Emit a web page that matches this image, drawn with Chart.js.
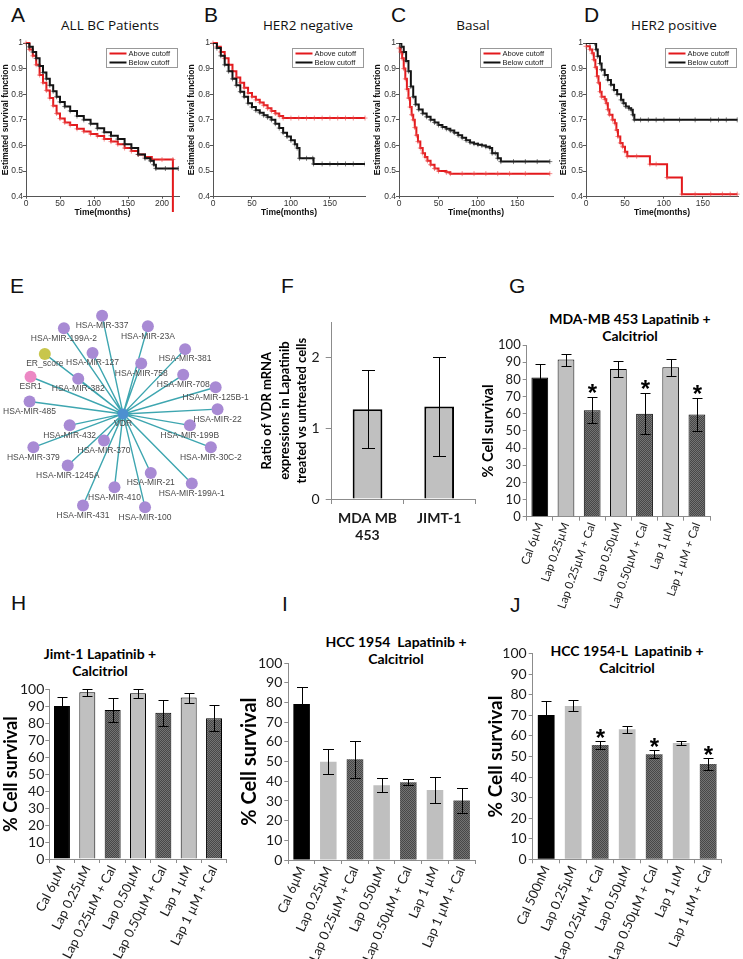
<!DOCTYPE html>
<html>
<head>
<meta charset="utf-8">
<script src="https://cdn.jsdelivr.net/npm/chart.js@4.4.0/dist/chart.umd.min.js"></script>
<style>
body { margin: 0; background: #fff; width: 743px; height: 959px; position: relative; overflow: hidden; }
canvas { position: absolute; }
.lab { position: absolute; font-family: "Liberation Sans", Arial, sans-serif; font-size: 21px; line-height: 1; color: #111; }
.ttl { position: absolute; font-family: "Open Sans", sans-serif; font-size: 13.5px; line-height: 18px; color: #111; transform: translateX(-50%); white-space: nowrap; }
.btl { position: absolute; font-family: Lato, sans-serif; font-weight: bold; font-size: 14px; line-height: 16.7px; color: #000; text-align: center; transform: translateX(-50%); white-space: pre; }
</style>
</head>
<body>
<div class="lab" style="left:11px;top:4px">A</div>
<div class="lab" style="left:204px;top:4px">B</div>
<div class="lab" style="left:391px;top:4px">C</div>
<div class="lab" style="left:584px;top:4px">D</div>
<div class="lab" style="left:10px;top:275px">E</div>
<div class="lab" style="left:281px;top:275px">F</div>
<div class="lab" style="left:509px;top:275px">G</div>
<div class="lab" style="left:11px;top:592px">H</div>
<div class="lab" style="left:282px;top:593px">I</div>
<div class="lab" style="left:510px;top:594px">J</div>

<div class="ttl" style="left:110px;top:16px">ALL BC Patients</div>
<div class="ttl" style="left:308px;top:16px">HER2 negative</div>
<div class="ttl" style="left:473px;top:16px">Basal</div>
<div class="ttl" style="left:674px;top:16px">HER2 positive</div>

<div class="btl" style="left:630px;top:311px">MDA-MB 453 Lapatinib +
Calcitriol</div>
<div class="btl" style="left:100px;top:646px">Jimt-1 Lapatinib +
Calcitriol</div>
<div class="btl" style="left:396px;top:634px">HCC 1954  Lapatinib +
Calcitriol</div>
<div class="btl" style="left:627px;top:643px">HCC 1954-L  Lapatinib +
Calcitriol</div>

<canvas id="cA"></canvas>
<canvas id="cB"></canvas>
<canvas id="cC"></canvas>
<canvas id="cD"></canvas>
<canvas id="cE"></canvas>
<canvas id="cF"></canvas>
<canvas id="cG"></canvas>
<canvas id="cH"></canvas>
<canvas id="cI"></canvas>
<canvas id="cJ"></canvas>

<script>
// ---- survival curves (time in months, survival fraction) ----
const survTicks = [0.4, 0.5, 0.6, 0.7, 0.8, 0.9, 1];
const timeTicksA = [0, 50, 100, 150, 200];
const timeTicks = [0, 50, 100, 150];

const aAboveT = [0,5,10,15,20,25,30,35,40,45,50,57,65,75,85,95,105,115,125,135,145,155,165,175,185,200,216,216];
const aAboveS = [1,0.975,0.95,0.915,0.875,0.845,0.815,0.785,0.755,0.725,0.705,0.69,0.68,0.665,0.655,0.645,0.637,0.625,0.615,0.605,0.59,0.578,0.565,0.555,0.545,0.545,0.545,0.34];
const aBelowT = [0,5,10,15,20,25,30,35,40,45,50,57,65,75,85,95,105,115,125,135,145,155,165,175,183,188,191,205,224];
const aBelowS = [1,0.985,0.965,0.94,0.91,0.885,0.86,0.835,0.812,0.79,0.77,0.752,0.735,0.715,0.70,0.685,0.667,0.652,0.638,0.625,0.605,0.59,0.565,0.55,0.54,0.525,0.51,0.51,0.51];

const bAboveT = [0,5,10,15,20,25,30,35,40,45,50,55,60,65,70,75,80,85,90,100,110,120,130,140,150,160,170,180,195];
const bAboveS = [1,0.985,0.965,0.94,0.915,0.89,0.865,0.845,0.825,0.805,0.79,0.778,0.768,0.757,0.745,0.735,0.725,0.715,0.707,0.707,0.707,0.707,0.707,0.707,0.707,0.707,0.707,0.707,0.707];
const bBelowT = [0,5,10,15,20,25,30,35,40,45,50,55,60,65,70,75,80,85,90,95,100,105,108,111,120,128,129,140,150,160,170,180,195];
const bBelowS = [1,0.98,0.95,0.915,0.89,0.86,0.835,0.81,0.79,0.765,0.75,0.737,0.728,0.718,0.71,0.70,0.685,0.668,0.65,0.635,0.62,0.605,0.59,0.55,0.55,0.55,0.528,0.528,0.528,0.528,0.528,0.528,0.528];

const cAboveT = [0,2,4,6,8,10,12,14,16,18,20,22,24,27,30,33,36,40,45,50,60,65,80,95,110,125,140,160,191];
const cAboveS = [0.98,0.965,0.94,0.9,0.86,0.82,0.785,0.75,0.72,0.70,0.67,0.64,0.615,0.59,0.57,0.555,0.54,0.525,0.51,0.50,0.495,0.49,0.49,0.49,0.49,0.49,0.49,0.49,0.49];
const cBelowT = [0,3,6,9,12,15,18,21,25,30,35,40,45,50,55,60,65,70,75,80,85,90,95,100,105,110,115,118,122,125,129,145,160,175,191];
const cBelowS = [1,0.985,0.965,0.93,0.89,0.83,0.79,0.76,0.74,0.725,0.712,0.70,0.69,0.68,0.672,0.665,0.658,0.65,0.64,0.63,0.62,0.612,0.607,0.603,0.60,0.595,0.59,0.57,0.57,0.55,0.537,0.537,0.537,0.537,0.537];

const dAboveT = [0,5,8,10,12,14,16,18,20,24,26,28,30,34,37,39,41,44,47,50,53,65,82,90,104,123,140,160,175,185,194];
const dAboveS = [0.987,0.975,0.96,0.935,0.905,0.87,0.845,0.81,0.79,0.78,0.765,0.74,0.72,0.70,0.687,0.66,0.635,0.61,0.595,0.575,0.558,0.558,0.527,0.527,0.475,0.41,0.41,0.41,0.41,0.41,0.41];
const dBelowT = [0,5,11,13,15,18,20,24,28,32,36,40,45,48,51,55,58,60,62,70,80,90,100,120,140,160,170,180,194];
const dBelowS = [1,1,1,0.975,0.948,0.92,0.896,0.875,0.856,0.837,0.817,0.80,0.778,0.765,0.752,0.745,0.739,0.72,0.70,0.70,0.70,0.70,0.70,0.70,0.70,0.70,0.70,0.70,0.70];

// ---- network (VDR hub, relative layout units) ----
const netNames = ['HSA-MIR-337','HSA-MIR-199A-2','HSA-MIR-23A','ER_score','HSA-MIR-127','HSA-MIR-758','HSA-MIR-381','ESR1','HSA-MIR-382','HSA-MIR-708','HSA-MIR-125B-1','HSA-MIR-485','HSA-MIR-22','HSA-MIR-432','HSA-MIR-199B','HSA-MIR-370','HSA-MIR-30C-2','HSA-MIR-379','HSA-MIR-1245A','HSA-MIR-21','HSA-MIR-199A-1','HSA-MIR-410','HSA-MIR-431','HSA-MIR-100'];
const netX = [-22,-62,26,-82,-32,19,65,-97,-47,63,97,-98,99,-56,70,-20,92,-94,-58,29,72,-9,-42,23];
const netY = [103,90,92,63,64,53,68,39,37,41,28,13,5,-12,-12,-28,-35,-35,-54,-62,-73,-77,-96,-98];

// ---- F ----
const fLabels = [['MDA MB', '453'], 'JIMT-1'];
const fValues = [1.27, 1.31];
const fErr = [0.55, 0.70];
const fTicks = [0, 1, 2];

// ---- G-J ----
const pctTicks = [0, 10, 20, 30, 40, 50, 60, 70, 80, 90, 100];
const treatLabels = ['Cal 6µM', 'Lap 0.25µM', 'Lap 0.25µM + Cal', 'Lap 0.50µM', 'Lap 0.50µM + Cal', 'Lap 1 µM', 'Lap 1 µM + Cal'];
const treatLabelsJ = ['Cal 500nM', 'Lap 0.25µM', 'Lap 0.25µM + Cal', 'Lap 0.50µM', 'Lap 0.50µM + Cal', 'Lap 1 µM', 'Lap 1 µM + Cal'];
const treatKind = ['cal', 'lap', 'combo', 'lap', 'combo', 'lap', 'combo'];

const gValues = [81, 91.5, 62, 86, 60, 87, 59.5];
const gErr = [8, 3.5, 7.5, 4.7, 11.8, 5, 9.5];
const gStars = [false, false, true, false, true, false, true];

const hValues = [90.2, 98.2, 87.8, 97.6, 86.2, 95.1, 82.9];
const hErr = [5, 2, 7.2, 2.7, 7.6, 3, 7.6];

const iValues = [79.3, 50, 51.2, 38, 39.5, 35.6, 30.2];
const iErr = [8.5, 6.3, 9.3, 3.5, 1.5, 6.8, 6.2];

const jValues = [70.2, 74.6, 55.6, 63.2, 51.1, 56.6, 46.4];
const jErr = [6.7, 2.7, 1.8, 1.8, 1.9, 0.9, 3.1];
const jStars = [false, false, true, false, true, false, true];

// ---------------------------------------------------------------
const axisGrey = '#8c8c8c';

function setup(id, box) {
    const c = document.getElementById(id);
    c.width = box.w;
    c.height = box.h;
    c.style.left = box.left + 'px';
    c.style.top = box.top + 'px';
    return c;
}

function fixSize(s) {
    return function (scale) {
        if (scale.isHorizontal()) scale.height = s; else scale.width = s;
        scale.paddingLeft = scale.paddingRight = scale.paddingTop = scale.paddingBottom = 0;
    };
}

function keepTicks(vals) {
    return function (scale) {
        scale.ticks = vals.map(v => ({ value: v }));
    };
}

function pts(t, s) {
    return t.map((x, i) => ({ x: x, y: s[i] }));
}

function hatch() {
    const c = document.createElement('canvas');
    c.width = c.height = 2;
    const g = c.getContext('2d');
    g.fillStyle = '#474747';
    g.fillRect(0, 0, 2, 2);
    g.fillStyle = '#737373';
    g.fillRect(0, 0, 1, 1);
    g.fillRect(1, 1, 1, 1);
    return g.createPattern(c, 'repeat');
}
const comboFill = hatch();

// error bars + asterisks
Chart.register({
    id: 'errorBars',
    afterDatasetsDraw(chart, args, opts) {
        if (!opts.errs) return;
        const ctx = chart.ctx;
        const y = chart.scales.y;
        const vals = chart.data.datasets[0].data;
        ctx.save();
        ctx.strokeStyle = opts.color || '#000';
        ctx.lineWidth = 1;
        chart.getDatasetMeta(0).data.forEach((bar, i) => {
            const e = opts.errs[i];
            const x = Math.round(bar.x) + 0.5;
            const top = Math.round(y.getPixelForValue(vals[i] + e)) + 0.5;
            const bot = Math.round(y.getPixelForValue(vals[i] - e)) + 0.5;
            ctx.beginPath();
            ctx.moveTo(x, top); ctx.lineTo(x, bot);
            ctx.moveTo(x - opts.cap, top); ctx.lineTo(x + opts.cap, top);
            ctx.moveTo(x - opts.cap, bot); ctx.lineTo(x + opts.cap, bot);
            ctx.stroke();
            if (opts.stars && opts.stars[i]) {
                ctx.fillStyle = '#000';
                ctx.font = 'bold ' + opts.starSize + 'px "Liberation Sans"';
                ctx.textAlign = 'center';
                ctx.textBaseline = 'alphabetic';
                ctx.fillText('*', x, top - opts.starGap + opts.starSize * 0.52);
            }
        });
        ctx.restore();
    }
});

// legend box inside survival plots
Chart.register({
    id: 'survLegend',
    afterDraw(chart, args, opts) {
        if (!opts.show) return;
        const ctx = chart.ctx, a = chart.chartArea;
        const w = 71, h = 19;
        const x = Math.round(a.right - 2 - w) + 0.5, y = Math.round(a.top + 5) + 0.5;
        ctx.save();
        ctx.fillStyle = '#fff';
        ctx.strokeStyle = '#999';
        ctx.lineWidth = 1;
        ctx.fillRect(x, y, w, h);
        ctx.strokeRect(x, y, w, h);
        chart.data.datasets.forEach((ds, i) => {
            const ly = y + 5 + i * 9;
            ctx.strokeStyle = ds.borderColor;
            ctx.lineWidth = 2;
            ctx.beginPath();
            ctx.moveTo(x + 3, ly); ctx.lineTo(x + 20, ly);
            ctx.stroke();
            ctx.fillStyle = '#222';
            ctx.font = '7.5px "Liberation Sans"';
            ctx.textBaseline = 'middle';
            ctx.fillText(ds.label, x + 22, ly);
        });
        ctx.restore();
    }
});

// node labels of the network
Chart.register({
    id: 'netLabels',
    afterDatasetsDraw(chart, args, opts) {
        if (!opts.names) return;
        const ctx = chart.ctx, sx = chart.scales.x, sy = chart.scales.y;
        ctx.save();
        ctx.fillStyle = '#4a4a4a';
        ctx.font = '8.5px "Liberation Sans"';
        ctx.textAlign = 'center';
        ctx.textBaseline = 'middle';
        opts.names.forEach((n, i) => {
            ctx.fillText(n, sx.getPixelForValue(opts.xs[i]), sy.getPixelForValue(opts.ys[i]) + 10);
        });
        ctx.restore();
    }
});

function survChart(id, box, area, xMax, xTicks, above, below) {
    const c = setup(id, box);
    const tickFont = { family: 'Liberation Sans', size: 8.5 };
    new Chart(c, {
        type: 'line',
        data: {
            datasets: [{
                label: 'Above cutoff',
                data: above,
                borderColor: '#e3191c',
                borderWidth: 2,
                stepped: true,
                pointStyle: 'cross',
                pointRadius: 2.5,
                pointBorderColor: 'rgba(235,70,70,0.6)',
                pointBorderWidth: 1,
                order: 1,
                clip: false
            }, {
                label: 'Below cutoff',
                data: below,
                borderColor: '#111',
                borderWidth: 2,
                stepped: true,
                pointStyle: 'cross',
                pointRadius: 2.5,
                pointBorderColor: 'rgba(40,40,40,0.6)',
                pointBorderWidth: 1,
                order: 0
            }]
        },
        options: {
            animation: false,
            responsive: false,
            events: [],
            layout: { padding: { left: 0, top: area.y0 - box.top, right: box.left + box.w - area.x1, bottom: 0 } },
            plugins: { legend: { display: false }, tooltip: { enabled: false }, survLegend: { show: true } },
            scales: {
                x: {
                    type: 'linear', min: 0, max: xMax,
                    afterBuildTicks: keepTicks(xTicks),
                    grid: { drawOnChartArea: false, tickLength: 2, color: '#555' },
                    border: { color: '#555' },
                    ticks: { font: tickFont, color: '#333', padding: 0, maxRotation: 0, autoSkip: false },
                    title: { display: true, text: 'Time(months)', color: '#111', font: { family: 'Liberation Sans', size: 8.5, weight: 'bold' }, padding: 0 },
                    afterFit: fixSize(box.top + box.h - area.y1)
                },
                y: {
                    min: 0.4, max: 1,
                    afterBuildTicks: keepTicks(survTicks),
                    grid: { drawOnChartArea: false, tickLength: 3, color: '#555' },
                    border: { color: '#555' },
                    ticks: { font: tickFont, color: '#333', padding: 0, autoSkip: false, callback: v => String(Math.round(v * 10) / 10) },
                    title: { display: true, text: 'Estimated survival function', color: '#111', font: { family: 'Liberation Sans', size: 8.5, weight: 'bold' }, padding: { top: 1, bottom: 0 } },
                    afterFit: fixSize(area.x0 - box.left)
                }
            }
        }
    });
}

survChart('cA', { left: 0, top: 0, w: 186, h: 218 }, { x0: 26, x1: 179, y0: 43, y1: 196.7 }, 225, timeTicksA, pts(aAboveT, aAboveS), pts(aBelowT, aBelowS));
survChart('cB', { left: 186, top: 0, w: 186, h: 218 }, { x0: 213, x1: 365, y0: 43, y1: 196.7 }, 195, timeTicks, pts(bAboveT, bAboveS), pts(bBelowT, bBelowS));
survChart('cC', { left: 372, top: 0, w: 186, h: 218 }, { x0: 399, x1: 553, y0: 43, y1: 196.7 }, 195, timeTicks, pts(cAboveT, cAboveS), pts(cBelowT, cBelowS));
survChart('cD', { left: 558, top: 0, w: 185, h: 218 }, { x0: 586, x1: 740, y0: 43, y1: 196.7 }, 195, timeTicks, pts(dAboveT, dAboveS), pts(dBelowT, dBelowS));

// network panel E
(function () {
    const box = { left: 0, top: 285, w: 262, h: 255 };
    const c = setup('cE', box);
    const hub = { x: 0, y: 0 };
    const nodes = netX.map((x, i) => ({ x: x, y: netY[i] }));
    const edges = nodes.flatMap(n => [hub, n]);
    const nodeColor = netNames.map(n => n === 'ER_score' ? '#c8c64c' : (n === 'ESR1' ? '#ec88c4' : '#a88ad4'));
    new Chart(c, {
        type: 'scatter',
        data: {
            datasets: [
                { data: edges, showLine: true, borderColor: '#3ea6b0', borderWidth: 1.4, pointRadius: 0, order: 2 },
                { data: nodes, pointRadius: 6, pointBackgroundColor: nodeColor, pointBorderWidth: 0, order: 1 },
                { data: [hub], pointRadius: 5.5, pointBackgroundColor: '#4d90d0', pointBorderWidth: 0, order: 0 }
            ]
        },
        options: {
            animation: false,
            responsive: false,
            events: [],
            layout: { padding: 0 },
            plugins: {
                legend: { display: false }, tooltip: { enabled: false },
                netLabels: { names: netNames.concat(['VDR']), xs: netX.concat([0]), ys: netY.concat([0]) }
            },
            scales: {
                x: { type: 'linear', display: false, min: -122.7, max: 139.3 },
                y: { type: 'linear', display: false, min: -126, max: 129 }
            }
        }
    });
})();

// bar charts
function barChart(id, box, area, cfg) {
    const c = setup(id, box);
    new Chart(c, {
        type: 'bar',
        data: {
            labels: cfg.labels,
            datasets: [{
                data: cfg.values,
                backgroundColor: cfg.colors,
                borderColor: cfg.borderWidth ? '#000' : 'rgba(0,0,0,0)',
                borderWidth: cfg.borderWidth,
                barPercentage: cfg.barPct,
                categoryPercentage: 1
            }]
        },
        options: {
            animation: false,
            responsive: false,
            events: [],
            layout: { padding: { left: 0, top: area.y0 - box.top, right: box.left + box.w - area.x1, bottom: 0 } },
            plugins: {
                legend: { display: false }, tooltip: { enabled: false },
                errorBars: { errs: cfg.errs, stars: cfg.stars, cap: cfg.cap, starGap: cfg.starGap || 8, starSize: cfg.starSize || 24 }
            },
            scales: {
                x: {
                    grid: { offset: true, drawOnChartArea: false, tickLength: cfg.xTick, color: axisGrey },
                    border: { color: axisGrey },
                    ticks: { font: cfg.xFont, color: '#1a1a1a', minRotation: cfg.rot, maxRotation: cfg.rot, autoSkip: false, padding: cfg.xPad },
                    afterFit: fixSize(box.top + box.h - area.y1)
                },
                y: {
                    min: 0, max: cfg.yMax,
                    afterBuildTicks: keepTicks(cfg.yTicks),
                    grid: { drawOnChartArea: false, tickLength: cfg.yTick, color: axisGrey },
                    border: { color: axisGrey },
                    ticks: { font: cfg.yFont, color: '#1a1a1a', padding: cfg.yPad, autoSkip: false },
                    title: { display: true, text: cfg.yTitle, color: '#000', font: cfg.titleFont, padding: { top: cfg.titlePad, bottom: 0 } },
                    afterFit: fixSize(area.x0 - box.left)
                }
            }
        }
    });
}

function kindColors(light) {
    return treatKind.map(k => k === 'cal' ? '#000' : (k === 'lap' ? light : comboFill));
}

barChart('cF', { left: 250, top: 300, w: 240, h: 250 }, { x0: 331.7, x1: 475, y0: 322.3, y1: 499 }, {
    labels: fLabels, values: fValues, errs: fErr, colors: '#c0c0c0', borderWidth: 2, barPct: 0.415,
    cap: 6.5, xTick: 5, xPad: 6, rot: 0, xFont: { family: 'Lato', size: 14, weight: 'bold', lineHeight: 1.2 },
    yMax: 2.5, yTicks: fTicks, yTick: 6, yPad: 6, yFont: { family: 'Lato', size: 14 },
    yTitle: ['Ratio of VDR mRNA', 'expressions in Lapatinib', 'treated vs untreated cells'],
    titleFont: { family: 'Lato', size: 13, weight: 'bold', lineHeight: 1.35 }, titlePad: 8
});

barChart('cG', { left: 480, top: 300, w: 263, h: 315 }, { x0: 526.7, x1: 710, y0: 345, y1: 516.7 }, {
    labels: treatLabels, values: gValues, errs: gErr, stars: gStars, starGap: 9, starSize: 24,
    colors: kindColors('#c0c0c0'), borderWidth: 1, barPct: 0.64,
    cap: 5, xTick: 4, xPad: 0, rot: 70, xFont: { family: 'Lato', size: 11.5 },
    yMax: 100, yTicks: pctTicks, yTick: 4, yPad: 2, yFont: { family: 'Lato', size: 13 },
    yTitle: '% Cell survival', titleFont: { family: 'Lato', size: 14.5, weight: 'bold' }, titlePad: 0
});

barChart('cH', { left: 0, top: 680, w: 240, h: 279 }, { x0: 49.3, x1: 226.7, y0: 689.3, y1: 859 }, {
    labels: treatLabels, values: hValues, errs: hErr,
    colors: kindColors('#c0c0c0'), borderWidth: 1, barPct: 0.63,
    cap: 5, xTick: 4, xPad: 0, rot: 63, xFont: { family: 'Lato', size: 13 },
    yMax: 100, yTicks: pctTicks, yTick: 4, yPad: 1, yFont: { family: 'Lato', size: 14 },
    yTitle: '% Cell survival', titleFont: { family: 'Lato', size: 18, weight: 'bold' }, titlePad: 0
});

barChart('cI', { left: 238, top: 655, w: 250, h: 304 }, { x0: 288.3, x1: 475, y0: 663.3, y1: 860 }, {
    labels: treatLabels, values: iValues, errs: iErr,
    colors: kindColors('#bfbfbf'), borderWidth: 0, barPct: 0.62,
    cap: 5.5, xTick: 4, xPad: 0, rot: 66, xFont: { family: 'Lato', size: 13 },
    yMax: 100, yTicks: pctTicks, yTick: 4, yPad: 2, yFont: { family: 'Lato', size: 14 },
    yTitle: '% Cell survival', titleFont: { family: 'Lato', size: 20, weight: 'bold' }, titlePad: 0
});

barChart('cJ', { left: 484, top: 645, w: 259, h: 314 }, { x0: 532.7, x1: 721.7, y0: 653.7, y1: 859.3 }, {
    labels: treatLabelsJ, values: jValues, errs: jErr, stars: jStars, starGap: 7.5, starSize: 24,
    colors: kindColors('#bfbfbf'), borderWidth: 0, barPct: 0.62,
    cap: 5, xTick: 4, xPad: 0, rot: 66, xFont: { family: 'Lato', size: 13 },
    yMax: 100, yTicks: pctTicks, yTick: 4, yPad: 2, yFont: { family: 'Lato', size: 14 },
    yTitle: '% Cell survival', titleFont: { family: 'Lato', size: 19, weight: 'bold' }, titlePad: 0
});
</script>
</body>
</html>
